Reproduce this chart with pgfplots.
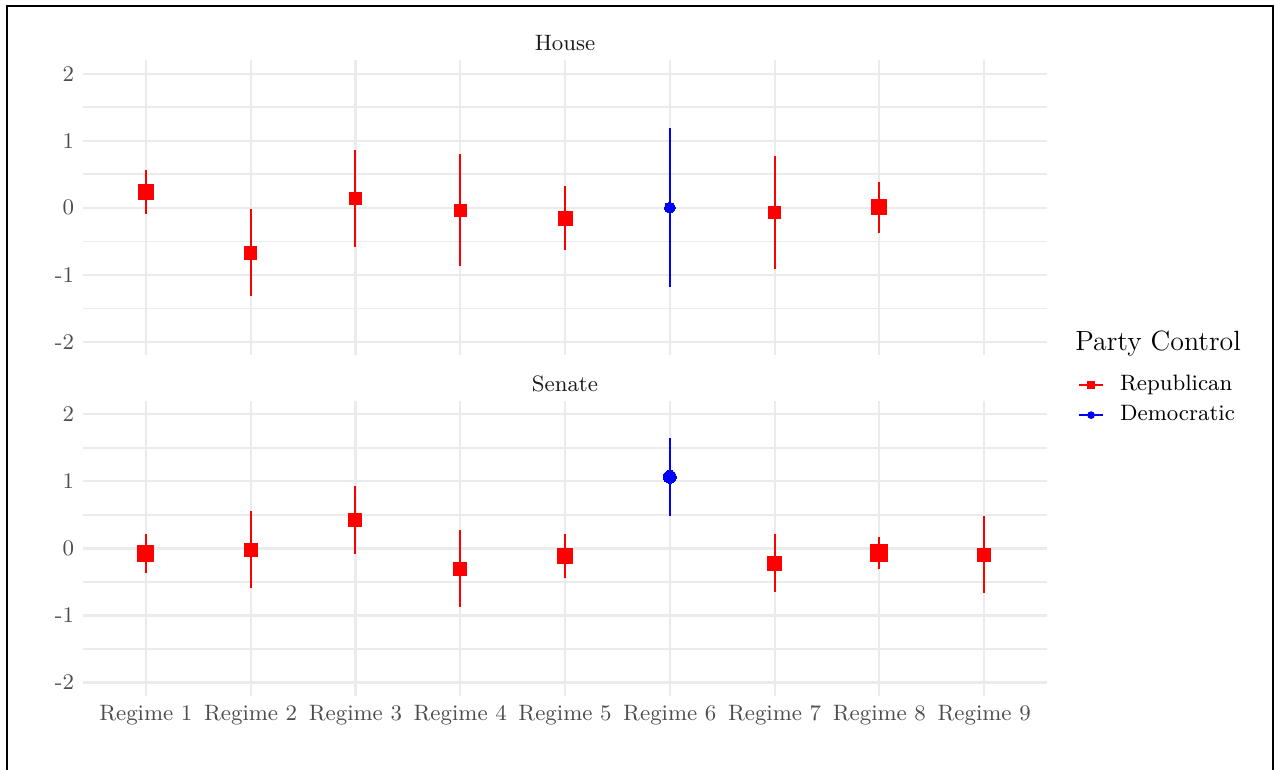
\documentclass[border=0pt]{standalone}
\usepackage{pgfplots}
\usepackage{pgfplotstable}
\pgfplotsset{compat=1.18}
\definecolor{grid92}{HTML}{EBEBEB}
\definecolor{grey30}{HTML}{4D4D4D}
\definecolor{grey10}{HTML}{1A1A1A}

% columns: regime, estimate, lower, upper, marker half-size (pt)
\pgfplotstableread{
x y lo hi s
1 0.230 -0.100 0.565 2.96
2 -0.675 -1.320 -0.015 2.50
3 0.137 -0.590 0.862 2.31
4 -0.042 -0.877 0.800 2.31
5 -0.164 -0.630 0.317 2.77
7 -0.072 -0.910 0.773 2.31
8 0.007 -0.377 0.387 2.96
}\houserep
\pgfplotstableread{
x y lo hi s
6 0.000 -1.190 1.185 2.15
}\housedem
\pgfplotstableread{
x y lo hi s
1 -0.074 -0.370 0.210 3.16
2 -0.022 -0.588 0.563 2.57
3 0.422 -0.089 0.933 2.57
4 -0.304 -0.870 0.280 2.57
5 -0.111 -0.440 0.217 2.96
7 -0.222 -0.652 0.217 2.77
8 -0.067 -0.306 0.173 3.36
9 -0.096 -0.667 0.479 2.57
}\senaterep
\pgfplotstableread{
x y lo hi s
6 1.067 0.490 1.640 2.55
}\senatedem

\pgfplotsset{
  panel/.style={
    width=381.1pt, height=116.6pt, scale only axis,
    xmin=0.4, xmax=9.6, ymin=-2.2, ymax=2.2,
    axis line style={draw=none},
    major tick length=0pt, minor tick length=0pt,
    xtick={1,...,9},
    ytick={-2,-1,0,1,2}, yticklabels={-2,-1,0,1,2},
    minor ytick={-1.5,-0.5,0.5,1.5},
    grid=both,
    major grid style={color=grid92, line width=0.85pt},
    minor grid style={color=grid92, line width=0.55pt},
    tick label style={font=\fontsize{8.8}{10.5}\selectfont, text=grey30},
    title style={at={(axis description cs:0.5,1)}, anchor=center, yshift=0.7pt,
                 font=\fontsize{8.8}{10.5}\selectfont, text=grey10},
    clip=false,
  },
  pr/.style 2 args={
    only marks, scatter, mark=#1, color=#2,
    scatter/use mapped color={draw=#2, fill=#2},
    visualization depends on={\thisrow{s} \as \ms},
    scatter/@pre marker code/.append style={/tikz/mark size=\ms},
    mark options={draw=#2, fill=#2, line width=0pt},
    error bars/y dir=both, error bars/y explicit,
    error bars/error mark=none,
    error bars/error bar style={#2, line width=0.8pt},
    forget plot,
  },
  rep/.style={pr={square*}{red}},
  dem/.style={pr={*}{blue}},
}

\begin{document}
\begin{tikzpicture}
\path[use as bounding box] (0,0) rectangle (504pt,304pt);
\draw[line width=0.7pt] (2.77pt,-2pt) -- (2.77pt,301.6pt) -- (503.3pt,301.6pt) -- (503.3pt,-2pt);

\begin{axis}[panel, at={(32.8pt,163.6pt)}, anchor=south west,
  title=House, xticklabels=\empty,
  legend cell align=left,
  legend image code/.code={%
    \path[draw=none] (0pt,0pt) -- (16.3pt,0pt);
    \draw[#1, line width=0.8pt] (0pt,0pt) -- (9.6pt,0pt);
    \draw[#1] plot[mark options={#1}] coordinates {(4.8pt,0pt)};
  },
  legend style={draw=none, fill=none, inner sep=0pt, outer sep=0pt,
    at={(axis description cs:1.032,-0.0669)}, anchor=north west,
    row sep=3.9pt,
    nodes={inner sep=0pt, outer sep=0pt, text height=6pt, text depth=2pt,
           font=\fontsize{8.8}{10.5}\selectfont, text=black}},
]
\addlegendimage{red, mark=square*, mark size=1.3pt}
\addlegendentry{Republican}
\addlegendimage{blue, mark=*, mark size=1.3pt}
\addlegendentry{Democratic}
\addplot[rep] table[x=x, y=y,
  y error plus expr=\thisrow{hi}-\thisrow{y},
  y error minus expr=\thisrow{y}-\thisrow{lo}] {\houserep};
\addplot[dem] table[x=x, y=y,
  y error plus expr=\thisrow{hi}-\thisrow{y},
  y error minus expr=\thisrow{y}-\thisrow{lo}] {\housedem};
\end{axis}

\begin{axis}[panel, at={(32.8pt,28.9pt)}, anchor=south west,
  title=Senate,
  xticklabels={Regime 1,Regime 2,Regime 3,Regime 4,Regime 5,Regime 6,Regime 7,Regime 8,Regime 9},
]
\addplot[rep] table[x=x, y=y,
  y error plus expr=\thisrow{hi}-\thisrow{y},
  y error minus expr=\thisrow{y}-\thisrow{lo}] {\senaterep};
\addplot[dem] table[x=x, y=y,
  y error plus expr=\thisrow{hi}-\thisrow{y},
  y error minus expr=\thisrow{y}-\thisrow{lo}] {\senatedem};
\end{axis}

\node[anchor=base west, inner sep=0pt, font=\fontsize{11}{13}\selectfont]
  at (424.9pt,165.6pt) {Party Control};
\end{tikzpicture}
\end{document}
